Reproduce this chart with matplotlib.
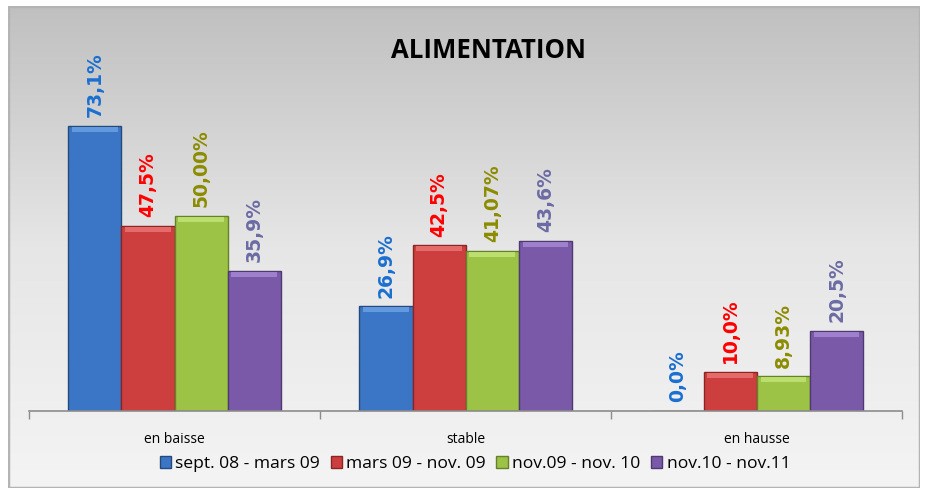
import numpy as np
import matplotlib
matplotlib.use("Agg")
import matplotlib.pyplot as plt
from matplotlib.patches import Patch, FancyBboxPatch

categories = ["en baisse", "stable", "en hausse"]
series_names = ["sept. 08 - mars 09", "mars 09 - nov. 09",
                "nov.09 - nov. 10", "nov.10 - nov.11"]
values = [
    [73.1, 26.9, 0.0],
    [47.5, 42.5, 10.0],
    [50.00, 41.07, 8.93],
    [35.9, 43.6, 20.5],
]
decimals = [1, 1, 2, 1]
title = "ALIMENTATION"

bar_colors = ["#3b76c6", "#cc3f3e", "#9cc246", "#7a5aa8"]
edge_colors = ["#24497a", "#8a2524", "#65812a", "#4e3a70"]
top_colors = ["#6ea3e6", "#ec7776", "#c5e67a", "#a98ad6"]
label_colors = ["#1a6fd0", "#ff0000", "#8c8c00", "#6c6ca4"]

W, H = 928, 495
fig = plt.figure(figsize=(W / 100, H / 100), dpi=100)
fig.patch.set_facecolor("white")

# background frame with vertical gradient
bg = fig.add_axes([8 / W, 7 / H, 912 / W, 482 / H])
bg.set_axis_off()
grad = np.linspace(0, 1, 256).reshape(-1, 1)
bg.imshow(grad, aspect="auto", extent=[0, 1, 0, 1], origin="lower",
          cmap=matplotlib.colors.LinearSegmentedColormap.from_list(
              "bg", ["#f4f4f4", "#e6e6e6", "#c0c0c0"]))
bg.add_patch(FancyBboxPatch((0, 0), 1, 1, boxstyle="square,pad=0",
                            transform=bg.transAxes, fill=False,
                            edgecolor="#b4b4b4", linewidth=2.5))
bg.set_xlim(0, 1)
bg.set_ylim(0, 1)

ax = fig.add_axes([29 / W, (H - 411) / H, 873.5 / W, 351 / H])
ax.patch.set_alpha(0)
ax.set_xlim(-0.5, 2.5)
ax.set_ylim(0, 90)

n = len(series_names)
bw = 0.1825
x = np.arange(len(categories))
for i, (name, vals) in enumerate(zip(series_names, values)):
    pos = x + (i - (n - 1) / 2) * bw
    ax.bar(pos, vals, width=bw, color=bar_colors[i], edgecolor=edge_colors[i],
           linewidth=1, label=name, zorder=2)
    for p, v in zip(pos, vals):
        if v > 3:
            ax.bar(p, 1.3, bottom=v - 1.55, width=bw * 0.86,
                   color=top_colors[i], linewidth=0, zorder=3, alpha=0.8)
        txt = f"{v:.{decimals[i]}f}%".replace(".", ",")
        ax.text(p, v + 2.2, txt, rotation=90, ha="center", va="bottom",
                fontsize=13.5, fontweight="bold", color=label_colors[i],
                family="DejaVu Sans", zorder=4)

for s in ["top", "right", "left"]:
    ax.spines[s].set_visible(False)
ax.spines["bottom"].set_color("#8c8c8c")
ax.spines["bottom"].set_linewidth(1.2)
ax.set_yticks([])
ax.set_xticks([-0.5, 0.5, 1.5, 2.5])
ax.set_xticklabels([])
ax.tick_params(axis="x", length=6, color="#8c8c8c", width=1)
ax.set_xticks(x, minor=True)
ax.set_xticklabels(categories, minor=True, fontsize=10, family="Open Sans")
ax.tick_params(axis="x", which="minor", length=0, pad=15)

fig.text(489 / W, 1 - 51 / H, title, ha="center", va="center",
         fontsize=18.5, fontweight="bold", family="Open Sans")

handles = [Patch(facecolor=bar_colors[i], edgecolor=edge_colors[i], label=series_names[i])
           for i in range(n)]
fig.legend(handles=handles, loc="center", bbox_to_anchor=(475 / W, 1 - 464 / H),
           ncol=4, frameon=False, handlelength=0.65, handleheight=0.65,
           handletextpad=0.25, columnspacing=0.6, prop={"family": "Open Sans", "size": 12.6})

fig.savefig("out.png", dpi=100)
